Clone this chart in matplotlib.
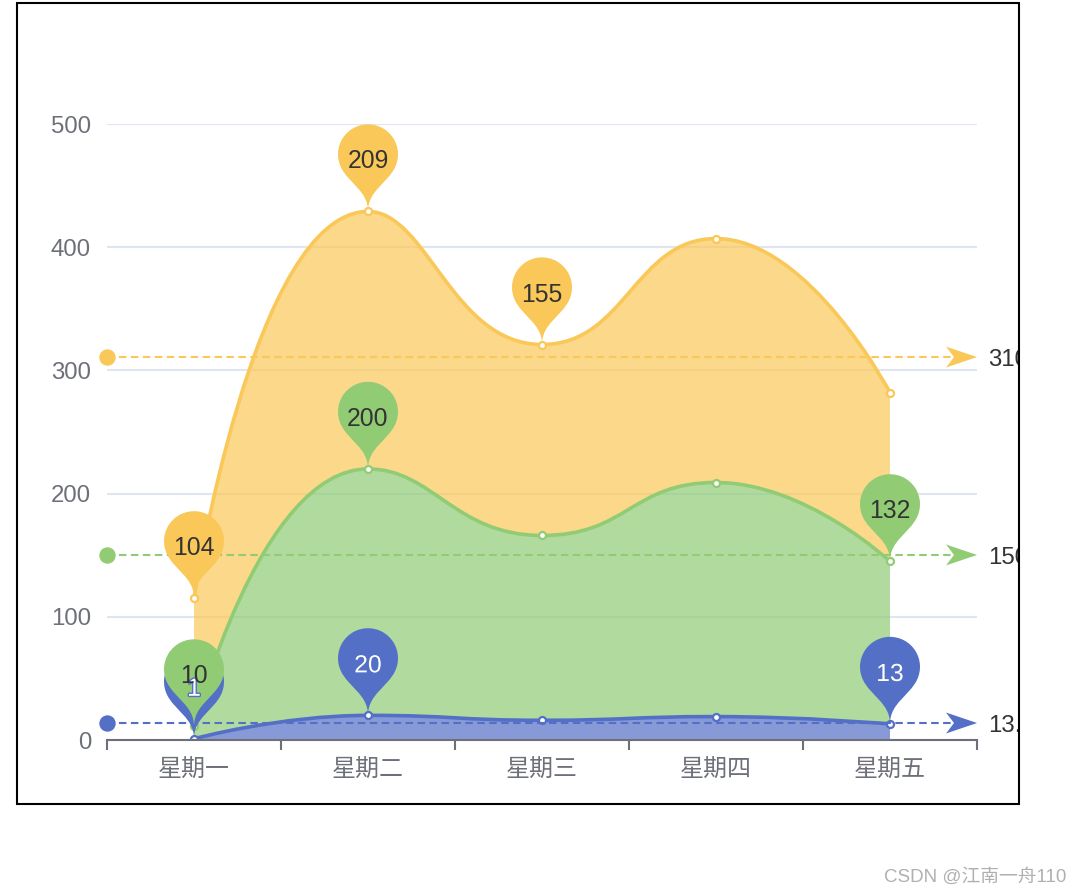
import numpy as np
import matplotlib
matplotlib.use("Agg")
import matplotlib.pyplot as plt
import matplotlib.patheffects as pe
from matplotlib.path import Path
from matplotlib.patches import PathPatch, Rectangle
from matplotlib.transforms import IdentityTransform, ScaledTranslation

days = ["星期一", "星期二", "星期三", "星期四", "星期五"]
blue_values = [1, 20, 16, 19, 13]
green_values = [10, 200, 150, 190, 132]
yellow_values = [104, 209, 155, 198, 137]
y_ticks = [0, 100, 200, 300, 400, 500]

# indices of the points that carry a pin
blue_pins = [0, 1, 4]
green_pins = [0, 1, 4]
yellow_pins = [0, 1, 2]

BLUE, GREEN, YELLOW = "#5470c6", "#91cc75", "#fac858"
AXIS_GREY = "#6e7079"
PX = 0.72  # points per pixel at dpi 100
FONT = 24 * PX

plt.rcParams["font.family"] = ["Liberation Sans", "Noto Sans CJK SC", "DejaVu Sans"]
plt.rcParams["lines.scale_dashes"] = False

fig = plt.figure(figsize=(10.82, 8.96), dpi=100)
ax = fig.add_axes([107 / 1082, 156 / 896, 870 / 1082, 616 / 896])
ax.set_xlim(-0.5, len(days) - 0.5)
ax.set_ylim(y_ticks[0], y_ticks[-1])
x = np.arange(len(days))


def smooth_verts(xs, ys, smooth=0.5):
    # echarts style smooth line, worked out in pixel space
    pts = ax.transData.transform(np.column_stack([xs, ys]).astype(float))
    verts = [pts[0]]
    cp0 = pts[0]
    n = len(pts)
    for k in range(1, n):
        px, py = pts[k - 1]
        x0, y0 = pts[k]
        if k == n - 1:
            cp1 = pts[k]
            nxt = None
        else:
            nx, ny = pts[k + 1]
            vx, vy = nx - px, ny - py
            lp = np.hypot(x0 - px, y0 - py)
            ln = np.hypot(nx - x0, ny - y0)
            r = ln / (ln + lp)
            ncx = x0 + vx * smooth * r
            ncy = y0 + vy * smooth * r
            ncx = max(min(ncx, max(nx, x0)), min(nx, x0))
            ncy = max(min(ncy, max(ny, y0)), min(ny, y0))
            c1x = x0 - (ncx - x0) * lp / ln
            c1y = y0 - (ncy - y0) * lp / ln
            c1x = max(min(c1x, max(px, x0)), min(px, x0))
            c1y = max(min(c1y, max(py, y0)), min(py, y0))
            ncx = x0 + (x0 - c1x) * ln / lp
            ncy = y0 + (y0 - c1y) * ln / lp
            cp1 = (c1x, c1y)
            nxt = (ncx, ncy)
        verts += [cp0, cp1, pts[k]]
        cp0 = nxt
    return ax.transData.inverted().transform(np.array(verts, dtype=float))


def pin_path(r=30.0, h=100.0):
    dy = r * r / (h - r)
    c = h - r - dy
    a = np.arcsin(dy / r)
    dx = np.cos(a) * r
    tx, ty = np.sin(a), np.cos(a)
    l1, l2 = r * 0.6, r * 0.7
    arc = Path.arc(-np.degrees(a), 180 + np.degrees(a))
    verts = list(arc.vertices * r + [0, c])
    codes = list(arc.codes)
    verts += [(-dx + tx * l1, c - dy - ty * l1), (0, l2), (0, 0),
              (0, l2), (dx - tx * l1, c - dy - ty * l1), (dx, c - dy),
              (dx, c - dy)]
    codes += [Path.CURVE4] * 6 + [Path.CLOSEPOLY]
    return Path(verts, codes)


PIN = pin_path()
ARROW = Path([(0, 0), (-31, 10.5), (-23, 0), (-31, -10.5), (0, 0)],
             [Path.MOVETO, Path.LINETO, Path.LINETO, Path.LINETO, Path.CLOSEPOLY])


def at_data(xd, yd):
    return IdentityTransform() + ScaledTranslation(xd, yd, ax.transData)


series = [(blue_values, BLUE, blue_pins, "white"),
          (green_values, GREEN, green_pins, "#333333"),
          (yellow_values, YELLOW, yellow_pins, "#333333")]

base = np.zeros(len(days))
lower = smooth_verts(x, base)
for values, color, pins, text_color in series:
    top = base + np.array(values)
    upper = smooth_verts(x, top)
    n = len(upper)
    verts = np.concatenate([upper, lower[::-1], upper[:1]])
    codes = ([Path.MOVETO] + [Path.CURVE4] * (n - 1) + [Path.LINETO]
             + [Path.CURVE4] * (n - 1) + [Path.CLOSEPOLY])
    ax.add_patch(PathPatch(Path(verts, codes), facecolor=color, alpha=0.7,
                           edgecolor="none", zorder=2))
    line_codes = [Path.MOVETO] + [Path.CURVE4] * (n - 1)
    ax.add_patch(PathPatch(Path(upper, line_codes), facecolor="none",
                           edgecolor=color, lw=2.6, zorder=3))
    ax.plot(x, top, "o", ms=7 * PX, mfc="white", mec=color, mew=1.6,
            zorder=4)

    # average line over the stacked values
    avg = top.mean()
    ax.plot([-0.5, len(days) - 0.5], [avg, avg], color=color, lw=1.5,
            dashes=(5.4, 3.2), zorder=5, clip_on=False)
    ax.plot(-0.5, avg, "o", ms=15 * PX, color=color, zorder=5, clip_on=False)
    ax.add_patch(PathPatch(ARROW, facecolor=color, edgecolor="none",
                           transform=at_data(len(days) - 0.5, avg),
                           zorder=5, clip_on=False))
    ax.annotate(f"{round(avg, 2):g}", xy=(len(days) - 0.5, avg),
                xytext=(11, -8.6), textcoords="offset pixels",
                ha="left", va="baseline", fontsize=FONT, color="#333333",
                annotation_clip=False)

    for i in pins:
        ax.add_patch(PathPatch(PIN, facecolor=color, edgecolor="none",
                               transform=at_data(x[i], top[i]),
                               zorder=6, clip_on=False))
        t = ax.annotate(str(values[i]), xy=(x[i], top[i]), xytext=(0, 43),
                        textcoords="offset pixels", ha="center",
                        va="baseline", fontsize=FONT * 1.03, color=text_color,
                        zorder=8, annotation_clip=False)
        if text_color == "white":
            t.set_path_effects([pe.withStroke(linewidth=2, foreground=color)])

    base = top
    lower = upper

ax.set_xticks(x)
ax.set_xticklabels(days)
ax.set_xticks(np.arange(-0.5, len(days)), minor=True)
ax.set_yticks(y_ticks)
ax.tick_params(axis="x", which="major", length=0, pad=14.5, labelsize=FONT,
               labelcolor=AXIS_GREY)
ax.tick_params(axis="x", which="minor", length=7, width=1.5, color=AXIS_GREY)
ax.tick_params(axis="y", length=0, pad=11.5, labelsize=FONT,
               labelcolor=AXIS_GREY)
ax.grid(axis="y", color="#e0e6f1", lw=1.5)
ax.set_axisbelow(True)
for side in ["top", "right", "left"]:
    ax.spines[side].set_visible(False)
ax.spines["bottom"].set_color(AXIS_GREY)
ax.spines["bottom"].set_linewidth(1.5)
ax.spines["bottom"].set_zorder(7)

# screenshot border, anything right of it is cut off
fig.add_artist(Rectangle((1020 / 1082, 90 / 896), 62 / 1082, 806 / 896,
                         transform=fig.transFigure, facecolor="white",
                         edgecolor="none", zorder=10))
fig.add_artist(Rectangle((17 / 1082, 92 / 896), 1002 / 1082, 801 / 896,
                         transform=fig.transFigure, facecolor="none",
                         edgecolor="black", lw=1.5, zorder=11))
fig.text(1066 / 1082, 1 - 877 / 896, "CSDN @江南一舟110", ha="right", va="center",
         fontsize=13.5, color="#b0b0b0", zorder=12)

fig.savefig("out.png", dpi=100)
